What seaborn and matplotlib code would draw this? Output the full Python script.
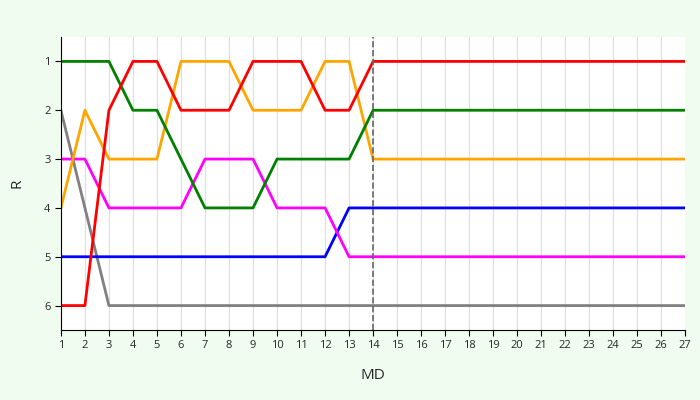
import numpy as np
import pandas as pd
import matplotlib
matplotlib.use("Agg")
import matplotlib.pyplot as plt
import seaborn as sns

md = list(range(1, 28))
tail = 13  # values stay flat after MD 14
red = [6, 6, 2, 1, 1, 2, 2, 2, 1, 1, 1, 2, 2, 1] + [1] * tail
green = [1, 1, 1, 2, 2, 3, 4, 4, 4, 3, 3, 3, 3, 2] + [2] * tail
orange = [4, 2, 3, 3, 3, 1, 1, 1, 2, 2, 2, 1, 1, 3] + [3] * tail
magenta = [3, 3, 4, 4, 4, 4, 3, 3, 3, 4, 4, 4, 5, 5] + [5] * tail
blue = [5, 5, 5, 5, 5, 5, 5, 5, 5, 5, 5, 5, 4, 4] + [4] * tail
gray = [2, 4, 6, 6, 6, 6, 6, 6, 6, 6, 6, 6, 6, 6] + [6] * tail

series = {"gray": gray, "blue": blue, "magenta": magenta,
          "orange": orange, "green": green, "red": red}
colors = {"gray": "#808080", "blue": "#0000ff", "magenta": "#ff00ff",
          "orange": "#ffa500", "green": "#008000", "red": "#ff0000"}

df = pd.concat([pd.DataFrame({"MD": md, "R": v, "team": k}) for k, v in series.items()])

sns.set_style("white")
plt.rcParams["font.family"] = ["Open Sans", "DejaVu Sans"]
fig = plt.figure(figsize=(7, 4), dpi=100, facecolor="#effcef")
ax = fig.add_axes([0.087, 0.175, 0.892, 0.7325])
ax.set_facecolor("white")
for x in md:
    ax.axvline(x, color="#dddddd", lw=0.8, zorder=0)
sns.lineplot(data=df, x="MD", y="R", hue="team", palette=colors, lw=2,
             legend=False, ax=ax)
ax.axvline(14, color="#666666", lw=1.2, ls="--")
ax.set_xlim(1, 27)
ax.set_ylim(6.5, 0.5)
ax.set_xticks(md)
ax.set_yticks([1, 2, 3, 4, 5, 6])
ax.tick_params(labelsize=8, length=4, color="black", left=True, bottom=True)
ax.set_xlabel("MD", fontsize=11, labelpad=12)
ax.set_ylabel("R", fontsize=11, labelpad=14)
for s in ["top", "right"]:
    ax.spines[s].set_visible(False)
ax.spines["left"].set_color("black")
ax.spines["bottom"].set_color("black")
fig.savefig("out.png", facecolor=fig.get_facecolor())
